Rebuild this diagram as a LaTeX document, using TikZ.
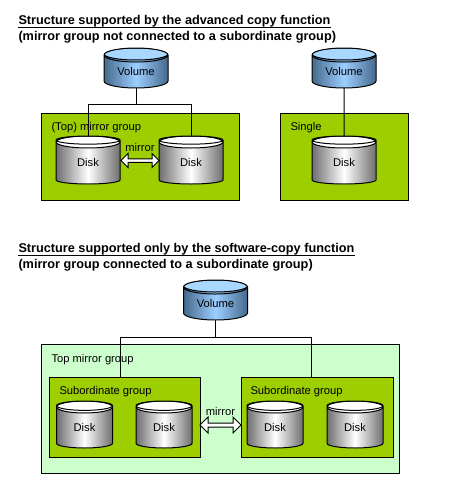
\documentclass[tikz,border=0pt]{standalone}
\usepackage{fontspec}
\setmainfont{Liberation Sans}
\usetikzlibrary{positioning,shapes.geometric,shapes.arrows}
\definecolor{Olive}{HTML}{9CCE00}
\definecolor{PaleGreen}{HTML}{CCFFCC}
\definecolor{VolumeDark}{HTML}{46698C}
\definecolor{VolumeLight}{HTML}{9CCEFF}
\definecolor{VolumeTop}{HTML}{A8D8FF}
\definecolor{DiskDark}{HTML}{6E6E6E}

\begin{document}
\begin{tikzpicture}[x=1pt,y=-1pt,line width=1pt,font=\fontsize{11.2}{14}\selectfont]
    \tikzset{
      title/.style={anchor=base west,inner sep=0pt,font=\fontsize{12.7}{15}\selectfont\bfseries},
      group/.style={draw,fill=Olive,anchor=north west,inner sep=0pt,outer sep=0pt},
      toplevel/.style={group,fill=PaleGreen},
      caption/.style={anchor=base west,inner sep=0pt},
      drum/.style 2 args={draw,cylinder,shape border rotate=90,anchor=shape center,inner sep=0pt,outer sep=0pt,
        shape aspect=#1,minimum width=2*#2 pt,
        path picture={\draw[fill=drumtop] ([yshift=-6pt]path picture bounding box.north)
          ellipse [x radius=#2pt,y radius=6pt];}},
      disk/.style={drum={0.375}{32},minimum height=48pt,left color=DiskDark,right color=DiskDark,middle color=white},
      smalldisk/.style={drum={0.43}{28},minimum height=47pt,left color=DiskDark,right color=DiskDark,middle color=white},
      volume/.style={drum={0.375}{32},minimum height=40pt,left color=VolumeDark,
        right color=VolumeDark,middle color=VolumeLight},
      link/.style={double arrow,draw,fill=white,anchor=center,inner sep=0pt,outer sep=0pt,
        double arrow head extend=1.5pt}
    }
    \useasboundingbox (0,0) rectangle (450,490);
    \fill[white] (0,0) rectangle (450,490);
    % upper part
    \node[title] (headA) at (18,24) {Structure supported by the advanced copy function};
    \node[title] (subA) at (18,40) {(mirror group not connected to a subordinate group)};
    \draw (headA.south west) -- (headA.south east);
    \node[group,minimum width=198pt,minimum height=87pt] (mirrorA) at (41.5,113.5) {};
    \node[group,minimum width=128pt,minimum height=87pt] (single) at (280.5,113.5) {};
    \node[caption] (mirrorlabel) at (51,130) {(Top) mirror group};
    \node[caption] (singlelabel) at (290,130) {Single};
    % lower part
    \node[title] (headB) at (18,252) {Structure supported only by the software-copy function};
    \node[title] (subB) at (18,268) {(mirror group connected to a subordinate group)};
    \draw (headB.south west) -- (headB.south east);
    \node[toplevel,minimum width=358pt,minimum height=129pt] (topgroup) at (41.5,344.5) {};
    \node[group,minimum width=151pt,minimum height=80pt] (subL) at (49.5,377.5) {};
    \node[group,minimum width=152pt,minimum height=80pt] (subR) at (241,377.5) {};
    \node[caption] (toplabel) at (51,362) {Top mirror group};
    \node[caption] (sublabelL) at (59,394) {Subordinate group};
    \node[caption] (sublabelR) at (250,394) {Subordinate group};
    % volumes and disks
    \colorlet{drumtop}{VolumeTop}
    \foreach \name/\x/\y in {volA/136/68,volB/344/68,volC/215.5/300}
      \node[volume] (\name) at (\x,\y) {Volume};
    \coordinate (busA) at (136,104.5);
    \coordinate (busC) at (215.5,337.5);
    \draw (volA) -- (busA);
    \draw (volC) -- (busC);
    \colorlet{drumtop}{white}
    \foreach \name/\x in {diskA/88,diskB/191,diskS/344}
      \node[disk] (\name) at (\x,160) {\raisebox{-2pt}{Disk}};
    \foreach \name/\x in {diskC/84.5,diskD/164,diskE/275,diskF/355}
      \node[smalldisk] (\name) at (\x,424.5) {\raisebox{-2pt}{Disk}};
    \draw (diskA.north) |- (busA) -| (diskB.north);
    \draw (volB.south) -- (diskS.north);
    \draw (subL.north -| 120,0) |- (busC) -| (subR.north -| 311,0);
    % mirror arrows
    \node[link,minimum height=38pt,minimum width=14pt] (arrowA) at (140,160.5) {};
    \node[link,minimum height=41pt,minimum width=16pt] (arrowB) at (220.5,425) {};
    \node[above=3pt of arrowA] (mirrorA-text) {mirror};
    \node[above=4pt of arrowB] (mirrorB-text) {mirror};
\end{tikzpicture}
\end{document}
